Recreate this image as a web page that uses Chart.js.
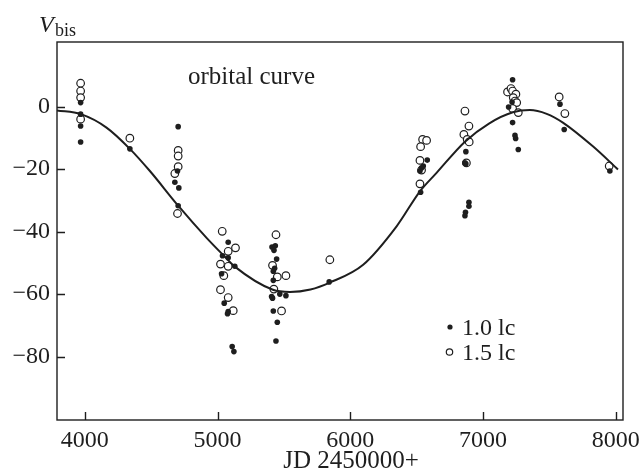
<!DOCTYPE html>
<html>
<head>
<meta charset="utf-8">
<script src="https://cdn.jsdelivr.net/npm/chart.js@4.4.1/dist/chart.umd.min.js"></script>
<style>
  body { margin: 0; background: #fff; }
  #wrap { width: 642px; height: 471px; }
</style>
</head>
<body>
<div id="wrap"><canvas id="orbit" width="642" height="471"></canvas></div>
<script>
// Axis ticks
const xTicks = [4000, 5000, 6000, 7000, 8000];
const yTicks = [0, -20, -40, -60, -80];

// Orbital curve
const curveX = [3790, 3970, 4163, 4339, 4490, 4703, 4917, 5040, 5130, 5417, 5545, 5700, 5846, 6097, 6349, 6525, 6650, 6864, 7045, 7225, 7353, 7480, 7602, 7828, 8017];
const curveY = [-1.2, -2.4, -6.7, -13.5, -20.6, -31.7, -42, -47.4, -51.2, -58.6, -59.3, -58.5, -56.3, -50.6, -38.3, -27.1, -21.2, -11.2, -5.4, -1.8, -1.1, -2.3, -5.1, -12.7, -20.1];

// 1.0 lc (filled)
const lc10X = [3968, 3968, 3968, 3968, 4339, 4703, 4698, 4678, 4708, 4703,
  5080, 5037, 5080, 5130, 5030, 5050, 5080, 5075, 5110, 5123,
  5410, 5435, 5425, 5445, 5430, 5420, 5420, 5469, 5515, 5407, 5414, 5420, 5450, 5440, 5841,
  6580, 6537, 6525, 6550, 6530, 6871, 6864, 6871, 6894, 6894, 6868, 6864,
  7223, 7219, 7193, 7223, 7241, 7246, 7266, 7580, 7612, 7956];
const lc10Y = [1.3, -2.4, -6.2, -11.3, -13.5, -6.4, -20.6, -24.2, -26.0, -31.7,
  -43.4, -47.7, -48.4, -51.1, -53.5, -62.9, -65.6, -66.3, -76.8, -78.4,
  -44.9, -44.5, -46.0, -48.8, -51.7, -52.7, -55.6, -60.0, -60.5, -60.8, -61.3, -65.4, -69.0, -75.0, -56.1,
  -17.1, -19.6, -20.6, -19.0, -27.4, -14.4, -18.0, -18.3, -30.6, -31.9, -33.8, -34.9,
  8.6, 1.5, -0.1, -5.1, -9.2, -10.2, -13.7, 0.8, -7.3, -20.6];

// 1.5 lc (open)
const lc15X = [3968, 3968, 3968, 3968, 4339, 4703, 4703, 4703, 4678, 4698,
  5035, 5080, 5135, 5022, 5080, 5047, 5022, 5080, 5118,
  5440, 5414, 5515, 5450, 5424, 5482, 5846,
  6545, 6575, 6530, 6525, 6537, 6525, 6864, 6894, 6856, 6881, 6896, 6875,
  7185, 7211, 7223, 7248, 7228, 7241, 7254, 7223, 7266, 7574, 7617, 7951];
const lc15Y = [7.5, 5.0, 2.9, -4.0, -10.1, -14.0, -15.8, -19.2, -21.4, -34.2,
  -39.9, -46.3, -45.2, -50.4, -51.1, -54.1, -58.6, -61.1, -65.3,
  -41.0, -50.8, -54.1, -54.5, -58.4, -65.4, -49.0,
  -10.5, -10.8, -12.8, -17.2, -20.3, -24.7, -1.4, -6.2, -8.9, -10.5, -11.3, -18.0,
  4.7, 5.8, 5.0, 4.0, 2.9, 1.8, 1.3, -0.6, -1.9, 3.1, -2.2, -19.0];

const ink = "#1e1e1e";
const serif = "'Liberation Serif', 'Times New Roman', serif";

const toPoints = (xs, ys) => xs.map((x, i) => ({ x: x, y: ys[i] }));
const minusLabel = v => (v < 0 ? "\u2212" + Math.abs(v) : String(v));

// Frame, inward ticks and free text
const framePlugin = {
  id: "frame",
  afterDraw(chart) {
    const { ctx, chartArea: a, scales } = chart;
    ctx.save();
    ctx.strokeStyle = ink;
    ctx.lineWidth = 1.4;
    ctx.strokeRect(a.left, a.top, a.right - a.left, a.bottom - a.top);

    ctx.beginPath();
    xTicks.forEach(v => {
      const px = Math.round(scales.x.getPixelForValue(v)) + 0.5;
      ctx.moveTo(px, a.bottom);
      ctx.lineTo(px, a.bottom - 8);
    });
    yTicks.forEach(v => {
      const py = Math.round(scales.y.getPixelForValue(v)) + 0.5;
      ctx.moveTo(a.left, py);
      ctx.lineTo(a.left + 8, py);
    });
    ctx.stroke();

    ctx.fillStyle = ink;
    ctx.textBaseline = "alphabetic";
    ctx.textAlign = "left";

    // Axis titles
    ctx.font = "italic 24px " + serif;
    ctx.fillText("V", 39, 32);
    ctx.font = "18px " + serif;
    ctx.fillText("bis", 55, 36);
    ctx.font = "25px " + serif;
    ctx.textAlign = "center";
    ctx.fillText("JD 2450000+", 351, 468);

    // Label inside plot
    ctx.textAlign = "left";
    ctx.font = "25px " + serif;
    ctx.fillText("orbital curve", 188, 84);

    // Legend
    ctx.font = "24px " + serif;
    ctx.fillText("1.0 lc", 462, 335);
    ctx.fillText("1.5 lc", 462, 360);
    ctx.beginPath();
    ctx.arc(450, 327, 2.6, 0, Math.PI * 2);
    ctx.fill();
    ctx.beginPath();
    ctx.lineWidth = 1.2;
    ctx.arc(449.5, 352, 3.2, 0, Math.PI * 2);
    ctx.stroke();
    ctx.restore();
  }
};

new Chart(document.getElementById("orbit"), {
  type: "scatter",
  data: {
    datasets: [
      {
        label: "1.0 lc",
        data: toPoints(lc10X, lc10Y),
        pointRadius: 2.8,
        pointBackgroundColor: ink,
        pointBorderWidth: 0,
        order: 0
      },
      {
        label: "orbital curve",
        data: toPoints(curveX, curveY),
        showLine: true,
        borderColor: ink,
        borderWidth: 2,
        pointRadius: 0,
        cubicInterpolationMode: "monotone",
        order: 1
      },
      {
        label: "1.5 lc",
        data: toPoints(lc15X, lc15Y),
        pointRadius: 3.8,
        pointBackgroundColor: "#fff",
        pointBorderColor: ink,
        pointBorderWidth: 1.2,
        order: 2
      }
    ]
  },
  options: {
    responsive: false,
    animation: false,
    layout: { padding: { left: 0, right: 19, top: 42, bottom: 0 } },
    plugins: {
      legend: { display: false },
      tooltip: { enabled: false }
    },
    scales: {
      x: {
        type: "linear",
        min: 3790,
        max: 8055,
        afterBuildTicks: s => { s.ticks = xTicks.map(v => ({ value: v })); },
        afterFit: s => { s.height = 51; s.paddingLeft = 0; s.paddingRight = 0; },
        grid: { display: false, drawTicks: false },
        border: { display: false },
        ticks: {
          padding: 6,
          color: ink,
          font: { family: serif, size: 24 },
          maxRotation: 0,
          callback: v => String(v)
        }
      },
      y: {
        type: "linear",
        min: -100.3,
        max: 20.7,
        afterBuildTicks: s => { s.ticks = yTicks.map(v => ({ value: v })); },
        afterFit: s => { s.width = 57; s.paddingTop = 0; s.paddingBottom = 0; },
        grid: { display: false, drawTicks: false },
        border: { display: false },
        ticks: {
          padding: 7,
          color: ink,
          font: { family: serif, size: 24 },
          callback: v => minusLabel(v)
        }
      }
    }
  },
  plugins: [framePlugin]
});
</script>
</body>
</html>
